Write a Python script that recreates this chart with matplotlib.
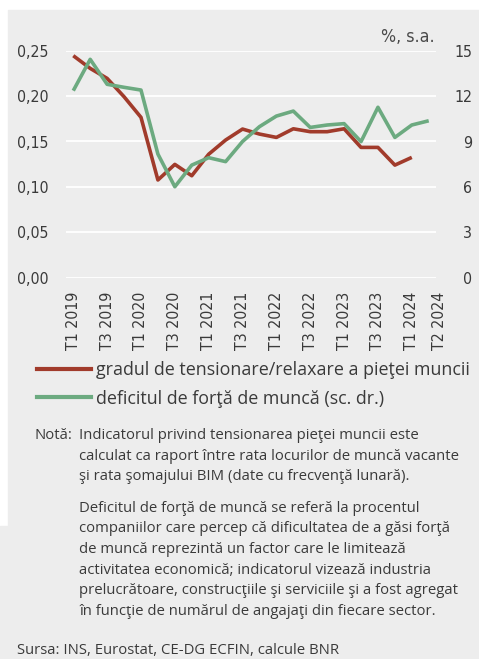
import matplotlib
import matplotlib.pyplot as plt
import numpy as np
from matplotlib.lines import Line2D
from matplotlib.patches import Rectangle
from matplotlib.transforms import ScaledTranslation

matplotlib.use("Agg")

# --- data ---
quarters = [
    "T1 2019", "T2 2019", "T3 2019", "T4 2019",
    "T1 2020", "T2 2020", "T3 2020", "T4 2020",
    "T1 2021", "T2 2021", "T3 2021", "T4 2021",
    "T1 2022", "T2 2022", "T3 2022", "T4 2022",
    "T1 2023", "T2 2023", "T3 2023", "T4 2023",
    "T1 2024", "T2 2024",
]
tick_labels = [
    "T1 2019", "T3 2019", "T1 2020", "T3 2020", "T1 2021", "T3 2021",
    "T1 2022", "T3 2022", "T1 2023", "T3 2023", "T1 2024", "T2 2024",
]
# labour market tightness (left axis), up to T1 2024
tension = [
    0.2445, 0.2305, 0.2195, 0.1993, 0.1766, 0.1076, 0.1248, 0.1123,
    0.1360, 0.1516, 0.1637, 0.1582, 0.1545, 0.1640, 0.1608, 0.1608,
    0.1640, 0.1435, 0.1435, 0.1240, 0.1325,
]
# labour shortage, % s.a. (right axis), up to T2 2024
shortage = [
    12.36, 14.43, 12.78, 12.58, 12.40, 8.17, 6.01, 7.44,
    7.93, 7.67, 9.00, 9.98, 10.68, 11.01, 9.93, 10.09,
    10.18, 8.99, 11.26, 9.27, 10.09, 10.37,
]
left_ticks = [0.00, 0.05, 0.10, 0.15, 0.20, 0.25]
right_ticks = [0, 3, 6, 9, 12, 15]

legend_labels = [
    "gradul de tensionare/relaxare a pieţei muncii",
    "deficitul de forţă de muncă (sc. dr.)",
]
note_1 = ("Indicatorul privind tensionarea pieţei muncii este\n"
          "calculat ca raport între rata locurilor de muncă vacante\n"
          "şi rata şomajului BIM (date cu frecvenţă lunară).")
note_2 = ("Deficitul de forţă de muncă se referă la procentul\n"
          "companiilor care percep că dificultatea de a găsi forţă\n"
          "de muncă reprezintă un factor care le limitează\n"
          "activitatea economică; indicatorul vizează industria\n"
          "prelucrătoare, construcţiile şi serviciile şi a fost agregat\n"
          "în funcţie de numărul de angajaţi din fiecare sector.")
source = "Sursa: INS, Eurostat, CE-DG ECFIN, calcule BNR"

RED = "#a13b2b"
GREEN = "#6caa80"
BG = "#ededed"
TXT = "#3a3a3a"
BODY_FONT = ["Open Sans", "DejaVu Sans"]
TICK_SIZE = 11.4
NOTE_SIZE = 10.7

W, H = 479, 659
fig = plt.figure(figsize=(W / 100, H / 100), dpi=100)
fig.patches.append(Rectangle((8 / W, 0), 1 - 8 / W, 1 - 10 / H,
                             transform=fig.transFigure, color=BG, zorder=-10))
fig.patches.append(Rectangle((0, 0), 8 / W, (H - 526) / H,
                             transform=fig.transFigure, color=BG, zorder=-10))

ax = fig.add_axes([66 / W, 1 - 277.7 / H, 370 / W, 227 / H])
ax.set_facecolor("none")
ax2 = ax.twinx()
ax2.set_facecolor("none")

x_t = np.arange(len(tension))
x_s = np.arange(len(shortage))
ax.plot(x_t, tension, color=RED, lw=2.6, solid_capstyle="butt", clip_on=False)
ax2.plot(x_s, shortage, color=GREEN, lw=2.6, solid_capstyle="butt", clip_on=False)

ax.set_xlim(-0.43, 21.43)
ax.set_ylim(0, 0.25)
ax2.set_ylim(0, 15)

for y in left_ticks:
    ax.axhline(y, color="white", lw=1.3, zorder=0)

ax.set_yticks(left_ticks)
ax.set_yticklabels([f"{v:.2f}".replace(".", ",") for v in left_ticks])
ax2.set_yticks(right_ticks)
ax2.set_yticklabels([str(v) for v in right_ticks])
ax.set_xticks([quarters.index(t) for t in tick_labels])
ax.set_xticklabels(tick_labels, rotation=90)

ax.tick_params(axis="y", length=0, pad=12.7, labelsize=TICK_SIZE, labelcolor=TXT)
ax.tick_params(axis="x", length=0, pad=10, labelsize=TICK_SIZE, labelcolor=TXT)
ax2.tick_params(axis="y", length=0, pad=25.9, labelsize=TICK_SIZE, labelcolor=TXT)
for lab in ax.get_xticklabels() + ax.get_yticklabels() + ax2.get_yticklabels():
    lab.set_family("DejaVu Sans")
    lab.set_stretch("condensed")
for lab in ax2.get_yticklabels():
    lab.set_ha("right")
last = ax.get_xticklabels()[-1]
last.set_transform(last.get_transform() + ScaledTranslation(0.11, 0, fig.dpi_scale_trans))

for a in (ax, ax2):
    for sp in a.spines.values():
        sp.set_visible(False)

fig.text(435 / W, 1 - 36.7 / H, "%, s.a.", ha="right", va="center",
         fontsize=12.8, color="#4a4a4a", family="DejaVu Sans",
         stretch="condensed")

handles = [Line2D([], [], color=RED, lw=3), Line2D([], [], color=GREEN, lw=3)]
fig.legend(handles, legend_labels, loc="center left",
           bbox_to_anchor=(37 / W, 1 - 384.2 / H), frameon=False,
           handlelength=3.0, handletextpad=0.3,
           labelspacing=0.6, borderpad=0, borderaxespad=0,
           prop={"family": BODY_FONT, "size": 12.9}, labelcolor=TXT)

fig.text(34.3 / W, 1 - 428 / H, "Notă:", ha="left", va="top",
         fontsize=NOTE_SIZE, color=TXT, family=BODY_FONT)
fig.text(79.3 / W, 1 - 428 / H, note_1, ha="left", va="top",
         fontsize=NOTE_SIZE, color=TXT, family=BODY_FONT, linespacing=1.52)
fig.text(79.3 / W, 1 - 500.5 / H, note_2, ha="left", va="top",
         fontsize=NOTE_SIZE, color=TXT, family=BODY_FONT, linespacing=1.52)
fig.text(16.7 / W, 1 - 650 / H, source, ha="left", va="center",
         fontsize=NOTE_SIZE, color=TXT, family=BODY_FONT)

fig.savefig("out.png", dpi=100)
